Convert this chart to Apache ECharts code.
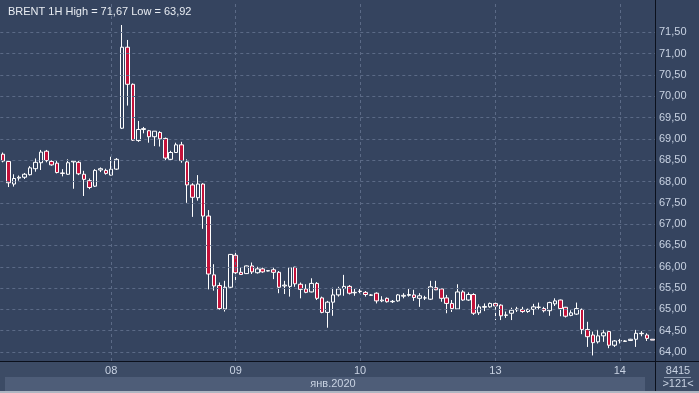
<!DOCTYPE html>
<html>
<head>
<meta charset="utf-8">
<script src="https://cdn.jsdelivr.net/npm/echarts@6/dist/echarts.min.js"></script>
<style>
html,body{margin:0;padding:0;background:#35445f;}
#chart{width:699px;height:393px;}
</style>
</head>
<body>
<div id="chart"></div>
<script>
// ---- data (hourly candles, BRENT 1H) ----
const opens = [68.64,68.47,67.94,68.08,68.10,68.16,68.30,68.44,68.71,68.47,68.43,68.20,68.17,68.46,68.45,68.17,68.02,67.89,68.27,68.26,
68.15,68.29,69.25,71.15,70.28,68.96,69.22,69.19,69.05,69.15,69.01,68.52,68.68,68.86,68.46,67.92,67.62,67.94,67.19,65.81,65.56,65.01,65.52,
66.27,65.87,65.84,66.02,65.86,65.95,65.90,65.93,65.87,65.55,65.54,65.99,65.59,65.48,65.41,65.61,65.27,64.93,65.17,65.34,65.49,65.54,65.39,
65.42,65.40,65.34,65.38,65.20,65.26,65.18,65.20,65.31,65.33,65.34,65.26,65.27,65.24,65.51,65.48,65.27,65.14,65.01,65.41,65.22,65.35,64.92,65.05,65.06,
65.14,65.10,64.86,64.91,64.99,65.00,64.95,65.00,65.05,65.02,64.97,65.13,65.22,65.05,64.86,64.89,65.00,64.53,64.40,64.24,64.38,64.48,64.16,
64.26,64.25,64.27,64.30,64.43,64.40,64.30];
const closes = [68.48,67.97,68.07,68.10,68.17,68.32,68.45,68.69,68.49,68.39,68.21,68.19,68.44,68.48,68.18,68.05,67.86,68.26,68.30,68.19,
68.29,68.52,71.15,70.28,68.97,69.22,69.24,69.05,69.18,69.00,68.55,68.68,68.86,68.49,67.92,67.63,67.94,67.19,65.83,65.55,65.02,65.52,66.29,
65.86,65.82,66.02,65.88,65.95,65.88,65.91,65.87,65.52,65.57,65.98,65.60,65.47,65.40,65.61,65.26,64.93,65.17,65.34,65.48,65.54,65.38,65.40,
65.43,65.35,65.33,65.20,65.22,65.18,65.19,65.34,65.33,65.35,65.28,65.32,65.27,65.53,65.46,65.26,65.14,65.02,65.41,65.22,65.35,64.91,65.06,65.07,65.14,
65.08,64.85,64.87,64.98,65.01,64.95,65.00,65.06,65.05,64.97,65.16,65.20,65.02,64.84,64.92,65.02,64.53,64.36,64.22,64.38,64.45,64.16,64.26,
64.27,64.26,64.30,64.44,64.44,64.32,64.28];
const lows = [68.45,67.87,67.88,68.02,68.06,68.14,68.23,68.27,68.45,68.37,68.19,68.12,68.16,67.83,68.15,67.66,67.82,67.87,68.22,68.16,
68.14,68.27,69.23,69.78,68.95,68.93,69.13,68.91,68.83,68.82,68.50,68.48,68.67,68.44,67.50,67.17,67.55,66.89,65.47,65.44,64.99,64.95,65.50,
65.69,65.81,65.83,65.83,65.84,65.86,65.89,65.71,65.38,65.36,65.30,65.53,65.26,65.38,65.40,65.22,64.91,64.57,64.85,65.30,65.32,65.35,65.32,
65.38,65.30,65.32,65.14,65.17,65.16,65.15,65.18,65.26,65.30,65.20,65.06,65.22,65.22,65.45,65.18,64.91,64.94,64.99,65.20,65.20,64.87,64.87,64.96,65.04,
64.75,64.75,64.80,64.75,64.94,64.92,64.92,64.87,65.00,64.93,64.85,65.08,64.84,64.81,64.84,64.87,64.42,64.12,63.92,64.20,64.24,64.09,64.12,
64.20,64.24,64.26,64.12,64.37,64.26,64.28];
const highs = [68.68,68.50,68.17,68.14,68.20,68.36,68.54,68.74,68.74,68.50,68.48,68.29,68.52,68.50,68.48,68.25,68.07,68.29,68.33,68.30,
68.58,68.55,71.67,71.32,70.30,69.42,69.28,69.21,69.18,69.18,69.03,68.72,68.91,68.93,68.52,67.96,68.15,67.96,67.33,66.06,65.63,65.67,66.30,
66.33,65.99,66.03,66.10,66.00,65.98,65.92,65.98,65.90,65.67,65.98,66.00,65.63,65.59,65.73,65.64,65.30,65.20,65.51,65.53,65.81,65.57,65.48,
65.48,65.43,65.36,65.40,65.31,65.28,65.22,65.36,65.38,65.48,65.46,65.38,65.32,65.67,65.67,65.49,65.34,65.22,65.59,65.45,65.40,65.38,65.12,65.14,65.16,
65.16,65.12,64.95,65.04,65.06,65.06,65.02,65.13,65.16,65.06,65.18,65.26,65.23,65.06,64.98,65.16,65.02,64.71,64.48,64.52,64.52,64.48,64.28,
64.31,64.28,64.31,64.52,64.49,64.44,64.30];

// day ticks on the time axis (index of the candle where the day label sits)
const dayTickIndex = [20, 43, 66, 91, 114];
const dayTickLabels = ['08', '09', '10', '13', '14'];
// price levels with labels / grid lines
const priceTicks = [64.0, 64.5, 65.0, 65.5, 66.0, 66.5, 67.0, 67.5, 68.0, 68.5, 69.0, 69.5, 70.0, 70.5, 71.0, 71.5];
const monthLabel = 'янв.2020';
const titleText = 'BRENT 1H High = 71,67 Low = 63,92';
const lastPrice = 64.28;
const barsInfo = ['8415', '>121<'];

// ---- build ----
const categories = opens.map((_, i) => {
  const k = dayTickIndex.indexOf(i);
  return k >= 0 ? dayTickLabels[k] : '';
});
const candles = opens.map((o, i) => [o, closes[i], lows[i], highs[i]]);
const fmt = v => v.toFixed(2).replace('.', ',');
const isTick = v => priceTicks.some(t => Math.abs(t - v) < 1e-6);

const FONT = "'Liberation Sans Narrow','Arial Narrow','Liberation Sans',Arial,sans-serif";
const BG = '#35445f';
const GRIDC = '#5b6a86';
const LBL = '#c8d2e2';
const dashed = {color: GRIDC, type: [3, 3], width: 1};

const chart = echarts.init(document.getElementById('chart'), null, {renderer: 'canvas'});
chart.setOption({
  animation: false,
  backgroundColor: BG,
  textStyle: {fontFamily: FONT},
  title: {
    text: titleText, left: 3, top: 1, z: 20,
    textStyle: {color: '#e8ecf2', fontSize: 11, fontWeight: 'normal', fontFamily: FONT}
  },
  grid: {left: 0, right: 44, top: 2, bottom: 32, containLabel: false},
  xAxis: {
    type: 'category', data: categories, boundaryGap: true, z: 20,
    axisLine: {show: true, lineStyle: {color: '#0b101c', width: 1}},
    axisTick: {show: false},
    axisLabel: {interval: 0, margin: 4, color: LBL, fontSize: 11, fontFamily: FONT},
    splitLine: {show: false}
  },
  yAxis: {
    type: 'value', position: 'right', min: 63.79, max: 72.21, splitNumber: 17, scale: true,
    axisLine: {show: true, lineStyle: {color: '#0b101c', width: 1}},
    axisTick: {show: false},
    axisLabel: {showMinLabel: false, showMaxLabel: false, margin: 4, color: LBL, fontSize: 11, fontFamily: FONT,
      formatter: v => isTick(v) ? fmt(v) : ''},
    splitLine: {show: false}
  },
  series: [{
    // grid lines (behind the candles)
    type: 'line', data: [], z: 1, silent: true,
    markLine: {
      silent: true, symbol: 'none', animation: false,
      label: {show: false},
      lineStyle: dashed,
      data: dayTickIndex.map(i => ({xAxis: i}))
        .concat(priceTicks.map(v => ({yAxis: v})))
    }
  }, {
    type: 'candlestick',
    data: candles,
    z: 3,
    barWidth: 4,
    itemStyle: {
      color: BG, color0: '#c3123a',
      borderColor: '#ffffff', borderColor0: '#ffffff', borderWidth: 1
    },
    markLine: {
      silent: true, symbol: 'none', animation: false,
      data: [{
        yAxis: lastPrice,
        lineStyle: {opacity: 0},
        label: {show: true, position: 'end', distance: 3, formatter: fmt(lastPrice),
          backgroundColor: '#c9cdd4', color: '#2a3242', fontSize: 11, fontFamily: FONT,
          padding: [1, 5, 1, 4], borderRadius: 0}
      }]
    }
  }],
  graphic: [
    // bottom time band
    {type: 'rect', z: 1, shape: {x: 0, y: 362, width: 655, height: 31}, style: {fill: '#3c4b65'}},
    {type: 'rect', z: 2, shape: {x: 5, y: 377, width: 640, height: 14}, style: {fill: '#4e5d78'}},
    {type: 'text', z: 30, x: 333, y: 384, style: {text: monthLabel, textAlign: 'center', textVerticalAlign: 'middle', fill: LBL, font: '11px ' + FONT}},
    // right-bottom info cell
    {type: 'rect', z: 1, shape: {x: 656, y: 362, width: 43, height: 31}, style: {fill: '#3c4b65'}},
    {type: 'text', z: 30, x: 678, y: 371, style: {text: barsInfo[0], textAlign: 'center', textVerticalAlign: 'middle', fill: LBL, font: '11px ' + FONT}},
    {type: 'line', z: 30, shape: {x1: 664, y1: 377.5, x2: 691, y2: 377.5}, style: {stroke: '#8d9ab0', lineWidth: 1}},
    {type: 'text', z: 30, x: 678, y: 384, style: {text: barsInfo[1], textAlign: 'center', textVerticalAlign: 'middle', fill: LBL, font: '11px ' + FONT}},
    // separators
    {type: 'line', z: 40, shape: {x1: 655.5, y1: 0, x2: 655.5, y2: 393}, style: {stroke: '#0b101c', lineWidth: 1}},
    {type: 'line', z: 40, shape: {x1: 0, y1: 361.5, x2: 699, y2: 361.5}, style: {stroke: '#0b101c', lineWidth: 1}},
    // frame
    {type: 'rect', z: 40, shape: {x: 0, y: 391, width: 699, height: 2}, style: {fill: '#aeb6c2'}}
  ]
});
</script>
</body>
</html>
